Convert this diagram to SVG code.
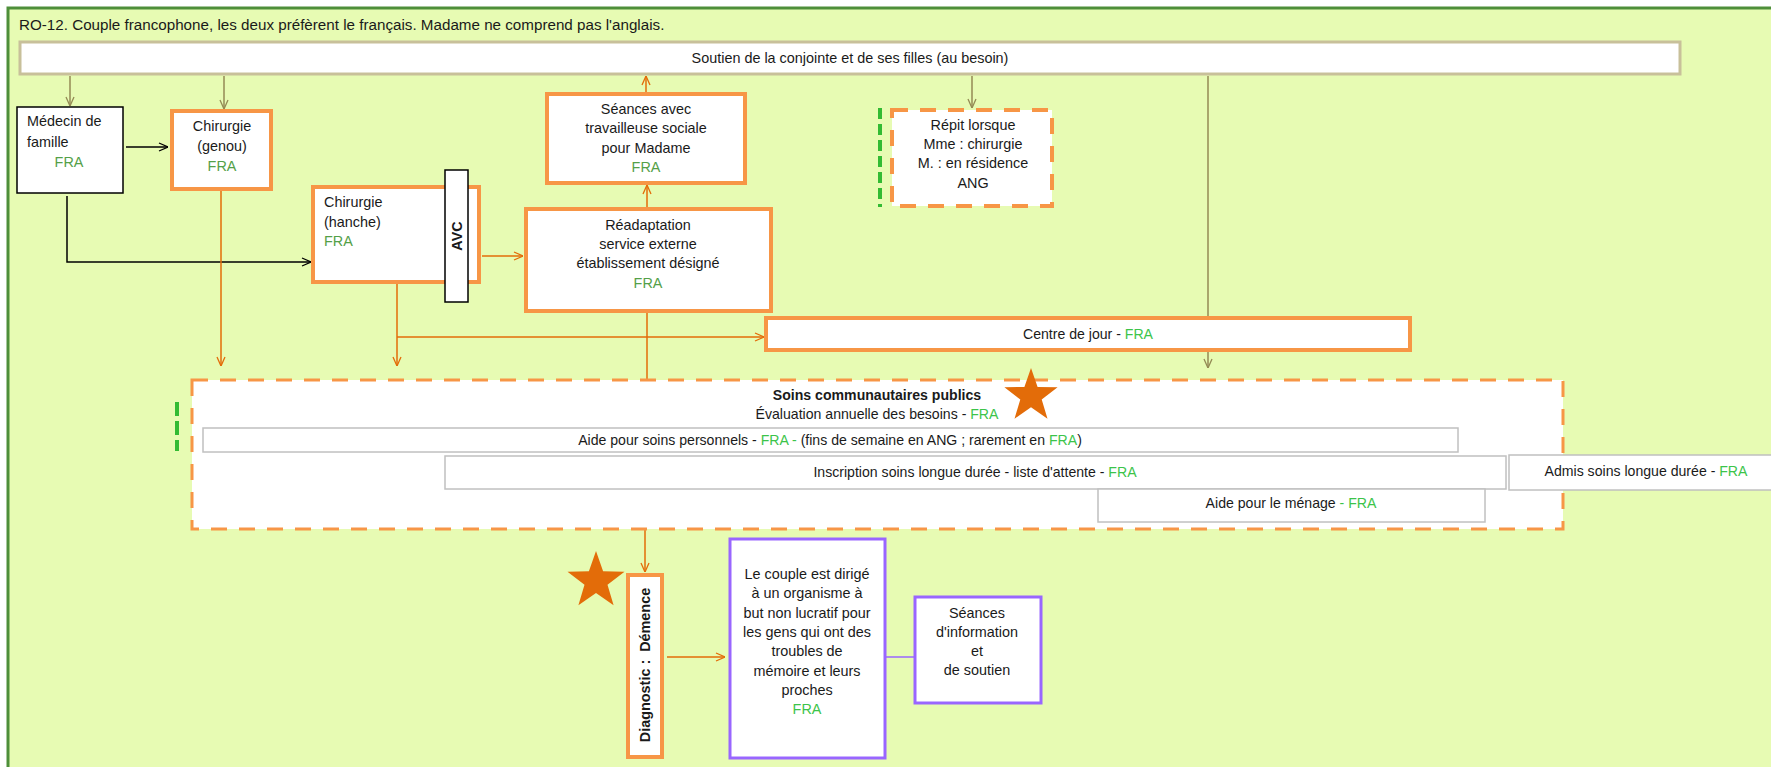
<svg xmlns="http://www.w3.org/2000/svg" width="1771" height="767" viewBox="0 0 1771 767">
<defs>
<style>
text{font-family:"Liberation Sans",Arial,sans-serif;fill:#1a1a1a;font-size:14.4px}
.c{text-anchor:middle}
.s{font-size:14.1px}
.t{font-size:15.2px}
.b{font-weight:bold}
.g{fill:#54a048}
.gb{fill:#3cc44a}
.obox{fill:#fff;stroke:#f79646;stroke-width:4}
.odash{fill:#fff;stroke:#f79646;stroke-dasharray:16 12}
.pbox{fill:#fff;stroke:#9966ff;stroke-width:3}
.gray{fill:#fff;stroke:#c0c0c0;stroke-width:1.5}
.ol{fill:none;stroke:#948a54;stroke-width:1.5}
.or{fill:none;stroke:#e36c09;stroke-width:1.5}
.bk{fill:none;stroke:#000;stroke-width:1.5}
.gd{fill:none;stroke:#33bb33;stroke-width:4}
.star{fill:#e36c09}
</style>
<marker id="aOl" viewBox="0 0 10 10" refX="10" refY="5" markerWidth="10" markerHeight="10" markerUnits="userSpaceOnUse" orient="auto"><path d="M1,1 L10,5 L1,9" fill="none" stroke="#948a54" stroke-width="1.3"/></marker>
<marker id="aOr" viewBox="0 0 10 10" refX="10" refY="5" markerWidth="10" markerHeight="10" markerUnits="userSpaceOnUse" orient="auto"><path d="M1,1 L10,5 L1,9" fill="none" stroke="#e36c09" stroke-width="1.3"/></marker>
<marker id="aBk" viewBox="0 0 10 10" refX="10" refY="5" markerWidth="10" markerHeight="10" markerUnits="userSpaceOnUse" orient="auto"><path d="M1,1 L10,5 L1,9" fill="none" stroke="#000" stroke-width="1.3"/></marker>
</defs>

<rect x="0" y="0" width="1771" height="767" fill="#ffffff"/>
<rect id="frame" x="8" y="8" width="1780" height="780" fill="#e7fbb3" stroke="#4e8f3a" stroke-width="3"/>
<text class="t" x="19" y="30">RO-12. Couple francophone, les deux préfèrent le français. Madame ne comprend pas l'anglais.</text>

<g id="connectors">
<line class="ol" x1="70" y1="76" x2="70" y2="106" marker-end="url(#aOl)"/>
<line class="ol" x1="224" y1="76" x2="224" y2="109" marker-end="url(#aOl)"/>
<line class="ol" x1="972" y1="76" x2="972" y2="108" marker-end="url(#aOl)"/>
<line class="ol" x1="1208" y1="76" x2="1208" y2="368" marker-end="url(#aOl)"/>
<line class="or" x1="646" y1="93" x2="646" y2="76" marker-end="url(#aOr)"/>
<line class="bk" x1="126" y1="147" x2="168" y2="147" marker-end="url(#aBk)"/>
<polyline class="bk" points="67,196 67,262 311,262" marker-end="url(#aBk)"/>
<line class="or" x1="221" y1="190" x2="221" y2="366" marker-end="url(#aOr)"/>
<line class="or" x1="397" y1="283" x2="397" y2="366" marker-end="url(#aOr)"/>
<line class="or" x1="397" y1="337" x2="764" y2="337" marker-end="url(#aOr)"/>
<line class="or" x1="482" y1="256" x2="523" y2="256" marker-end="url(#aOr)"/>
<line class="or" x1="647" y1="209" x2="647" y2="185" marker-end="url(#aOr)"/>
<line class="or" x1="647" y1="311" x2="647" y2="379"/>
<line class="or" x1="645" y1="530" x2="645" y2="572" marker-end="url(#aOr)"/>
<line class="or" x1="667" y1="657" x2="725" y2="657" marker-end="url(#aOr)"/>
<line x1="885" y1="657" x2="914" y2="657" stroke="#9966ff" stroke-width="1.5"/>
</g>

<g id="soutien">
<rect x="20" y="42" width="1660" height="32" fill="#fff" stroke="#c8c09a" stroke-width="3"/>
<text class="c" x="850" y="63">Soutien de la conjointe et de ses filles (au besoin)</text>
</g>

<g id="medecin">
<rect x="17" y="107" width="106" height="86" fill="#fff" stroke="#000" stroke-width="1.5"/>
<text x="27" y="126">Médecin de</text>
<text x="27" y="147">famille</text>
<text class="c g" x="69" y="167">FRA</text>
</g>

<g id="genou">
<rect class="obox" x="172" y="111" width="99" height="78"/>
<text class="c" x="222" y="131">Chirurgie</text>
<text class="c" x="222" y="151">(genou)</text>
<text class="c g" x="222" y="171">FRA</text>
</g>

<g id="hanche">
<rect class="obox" x="313" y="187" width="166" height="95"/>
<text x="324" y="207">Chirurgie</text>
<text x="324" y="227">(hanche)</text>
<text class="g" x="324" y="246">FRA</text>
</g>

<g id="avc">
<rect x="445" y="170" width="23" height="132" fill="#fff" stroke="#000" stroke-width="1.5"/>
<text class="c b" transform="translate(462,236) rotate(-90)" x="0" y="0">AVC</text>
</g>

<g id="seances">
<rect class="obox" x="547" y="94" width="198" height="89"/>
<text class="c" x="646" y="114">Séances avec</text>
<text class="c" x="646" y="133">travailleuse sociale</text>
<text class="c" x="646" y="153">pour Madame</text>
<text class="c g" x="646" y="172">FRA</text>
</g>

<g id="readaptation">
<rect class="obox" x="526" y="209" width="245" height="102"/>
<text class="c" x="648" y="230">Réadaptation</text>
<text class="c" x="648" y="249">service externe</text>
<text class="c" x="648" y="268">établissement désigné</text>
<text class="c g" x="648" y="288">FRA</text>
</g>

<g id="repit">
<line class="gd" x1="880" y1="108" x2="880" y2="207" stroke-dasharray="11 5"/>
<rect class="odash" x="892" y="110" width="160" height="96" stroke-width="4"/>
<text class="c" x="973" y="130">Répit lorsque</text>
<text class="c" x="973" y="149">Mme : chirurgie</text>
<text class="c" x="973" y="168">M. : en résidence</text>
<text class="c" x="973" y="188">ANG</text>
</g>

<g id="centre-jour">
<rect class="obox" x="766" y="318" width="644" height="32"/>
<text class="c s" x="1088" y="339">Centre de jour - <tspan class="gb">FRA</tspan></text>
</g>

<g id="soins">
<line class="gd" x1="177" y1="402" x2="177" y2="451" stroke-dasharray="14 5"/>
<rect class="odash" x="192" y="380" width="1371" height="149" stroke-width="3" stroke-dasharray="11 6"/>
<text class="c s b" x="877" y="400">Soins communautaires publics</text>
<text class="c s" x="877" y="419">Évaluation annuelle des besoins - <tspan class="gb">FRA</tspan></text>
<polygon class="star" transform="translate(1031,396)" points="0,-28 6.6,-9.1 26.6,-8.7 10.7,3.5 16.5,22.7 0,11.3 -16.5,22.7 -10.7,3.5 -26.6,-8.7 -6.6,-9.1"/>
</g>

<g id="aide-perso">
<rect class="gray" x="203" y="428" width="1255" height="24"/>
<text class="c s" x="830" y="445">Aide pour soins personnels - <tspan class="gb">FRA - </tspan>(fins de semaine en ANG ; rarement en <tspan class="gb">FRA</tspan>)</text>
</g>

<g id="inscription">
<rect class="gray" x="445" y="456" width="1061" height="33"/>
<text class="c s" x="975" y="477">Inscription soins longue durée - liste d'attente - <tspan class="gb">FRA</tspan></text>
</g>

<g id="admis">
<rect class="gray" x="1509" y="455" width="275" height="35"/>
<text class="c s" x="1646" y="476">Admis soins longue durée - <tspan class="gb">FRA</tspan></text>
</g>

<g id="menage">
<rect class="gray" x="1098" y="489" width="387" height="33"/>
<text class="c s" x="1291" y="508">Aide pour le ménage<tspan class="gb"> - FRA</tspan></text>
</g>

<g id="diagnostic">
<rect class="obox" x="628" y="575" width="34" height="182"/>
<text class="c b" transform="translate(650,665) rotate(-90)" x="0" y="0">Diagnostic :&#160; Démence</text>
<polygon class="star" transform="translate(596,581)" points="0,-30 7.1,-9.8 28.5,-9.3 11.5,3.7 17.6,24.3 0,12.1 -17.6,24.3 -11.5,3.7 -28.5,-9.3 -7.1,-9.8"/>
</g>

<g id="organisme">
<rect class="pbox" x="730" y="539" width="155" height="219"/>
<text class="c" x="807" y="579">Le couple est dirigé</text>
<text class="c" x="807" y="598">à un organisme à</text>
<text class="c" x="807" y="618">but non lucratif pour</text>
<text class="c" x="807" y="637">les gens qui ont des</text>
<text class="c" x="807" y="656">troubles de</text>
<text class="c" x="807" y="676">mémoire et leurs</text>
<text class="c" x="807" y="695">proches</text>
<text class="c gb" x="807" y="714">FRA</text>
</g>

<g id="info">
<rect class="pbox" x="915" y="597" width="126" height="106"/>
<text class="c" x="977" y="618">Séances</text>
<text class="c" x="977" y="637">d'information</text>
<text class="c" x="977" y="656">et</text>
<text class="c" x="977" y="675">de soutien</text>
</g>
</svg>
